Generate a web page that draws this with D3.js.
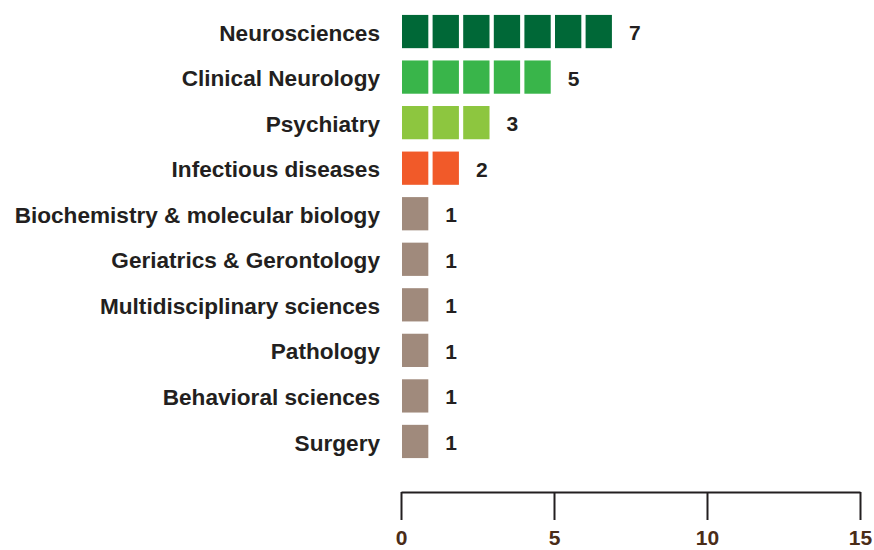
<!DOCTYPE html>
<html>
<head>
<meta charset="utf-8">
<script src="https://cdn.jsdelivr.net/npm/d3@7"></script>
<style>
  body { margin: 0; background: #fff; }
  text { font-family: "Liberation Sans", Arial, sans-serif; font-weight: bold; }
</style>
</head>
<body>
<svg id="chart" width="874" height="550" viewBox="0 0 874 550"></svg>
<script>
// data
const categories = [
    "Neurosciences", "Clinical Neurology", "Psychiatry", "Infectious diseases",
    "Biochemistry & molecular biology", "Geriatrics & Gerontology",
    "Multidisciplinary sciences", "Pathology", "Behavioral sciences", "Surgery"
];
const counts = [7, 5, 3, 2, 1, 1, 1, 1, 1, 1];
const barColors = ["#006837", "#39b54a", "#8dc63f", "#f15a29",
    "#a08a7c", "#a08a7c", "#a08a7c", "#a08a7c", "#a08a7c", "#a08a7c"];
const xTicks = [0, 5, 10, 15];

const svg = d3.select("#chart");

const x = d3.scaleLinear().domain([0, 15]).range([401, 860]);
const y = d3.scaleBand().domain(categories).range([9, 464]).paddingInner(0.27).paddingOuter(0.13);

const rows = categories.map((c, i) => ({ name: c, value: counts[i], color: barColors[i] }));

// unit blocks for every row
const rowGroups = svg.append("g").selectAll("g")
    .data(rows)
    .enter()
    .append("g")
    .attr("transform", d => `translate(0,${y(d.name)})`);

const unitW = (x(1) - x(0)) * 0.86;

rowGroups.selectAll("rect")
    .data(d => d3.range(d.value).map(i => ({ i, color: d.color })))
    .enter()
    .append("rect")
    .attr("x", d => x(d.i) + 1)
    .attr("y", 0)
    .attr("width", unitW)
    .attr("height", y.bandwidth())
    .attr("fill", d => d.color);

// value labels
rowGroups.append("text")
    .attr("x", d => x(d.value - 1) + 1 + unitW + 17)
    .attr("y", y.bandwidth() / 2 + 1)
    .attr("dy", "0.36em")
    .attr("font-size", 21)
    .attr("fill", "#231f20")
    .text(d => d.value);

// category labels
rowGroups.append("text")
    .attr("x", 380)
    .attr("y", y.bandwidth() / 2 + 1)
    .attr("dy", "0.36em")
    .attr("text-anchor", "end")
    .attr("font-size", 22.6)
    .attr("fill", "#231f20")
    .text(d => d.name);

// x axis, ticks hang below the line
const axis = svg.append("g")
    .attr("transform", "translate(0,492)")
    .call(d3.axisBottom(x).tickValues(xTicks).tickSize(28).tickSizeOuter(0).tickPadding(10));

axis.select(".domain").attr("stroke", "#231f20").attr("stroke-width", 2);
axis.selectAll(".tick line").attr("stroke", "#231f20").attr("stroke-width", 2);
axis.selectAll(".tick text")
    .attr("font-size", 21)
    .attr("font-family", "Liberation Sans, Arial, sans-serif")
    .attr("font-weight", "bold")
    .attr("fill", "#4a2c18");
</script>
</body>
</html>
